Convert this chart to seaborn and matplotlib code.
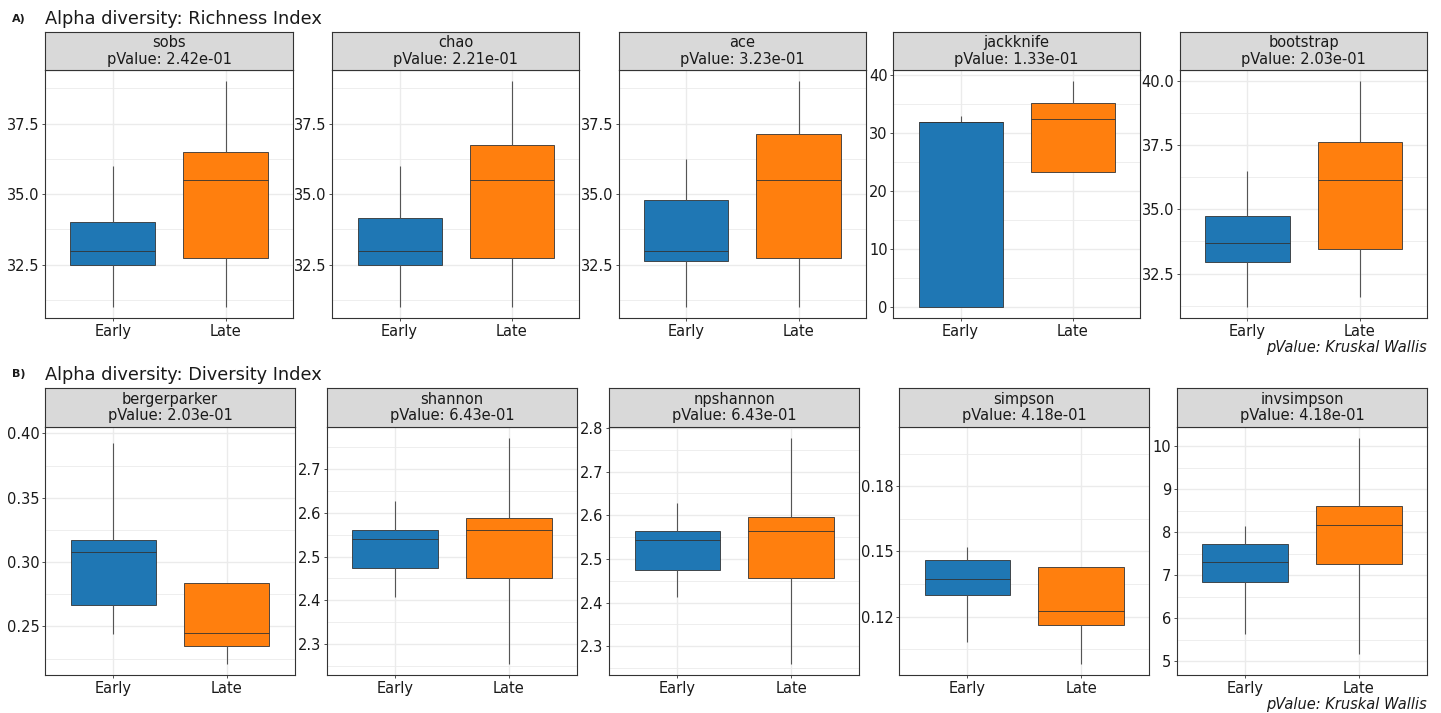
import numpy as np
import pandas as pd
import matplotlib
matplotlib.use("Agg")
import matplotlib.pyplot as plt
import seaborn as sns
from matplotlib.ticker import MultipleLocator, FormatStrFormatter

# ---------------------------------------------------------------- data
groups = ["Early", "Late"]

# A) richness indices
richness_metrics = ["sobs", "chao", "ace", "jackknife", "bootstrap"]
richness_pvalues = ["2.42e-01", "2.21e-01", "3.23e-01", "1.33e-01", "2.03e-01"]
sobs_early = [31.0, 32.5, 33.0, 34.0, 36.0]
sobs_late = [31.0, 32.75, 35.5, 36.5, 39.0]
chao_early = [31.0, 32.5, 33.0, 34.17, 36.0]
chao_late = [31.0, 32.75, 35.5, 36.75, 39.0]
ace_early = [31.0, 32.63, 33.0, 34.79, 36.23]
ace_late = [31.0, 32.75, 35.5, 37.14, 39.0]
jackknife_early = [0.0, 0.0, 32.0, 32.0, 33.0]
jackknife_late = [23.25, 23.25, 32.5, 35.25, 39.0]
bootstrap_early = [31.2, 32.95, 33.7, 34.72, 36.5]
bootstrap_late = [31.6, 33.47, 36.15, 37.6, 39.97]

# B) diversity indices
diversity_metrics = ["bergerparker", "shannon", "npshannon", "simpson", "invsimpson"]
diversity_pvalues = ["2.03e-01", "6.43e-01", "6.43e-01", "4.18e-01", "4.18e-01"]
bergerparker_early = [0.244, 0.267, 0.308, 0.3175, 0.3925]
bergerparker_late = [0.221, 0.235, 0.2445, 0.2835, 0.2835]
shannon_early = [2.407, 2.473, 2.540, 2.560, 2.626]
shannon_late = [2.255, 2.450, 2.560, 2.589, 2.771]
npshannon_early = [2.412, 2.474, 2.543, 2.563, 2.628]
npshannon_late = [2.260, 2.457, 2.564, 2.597, 2.777]
simpson_early = [0.1081, 0.1299, 0.1371, 0.1462, 0.1518]
simpson_late = [0.0983, 0.1162, 0.1227, 0.1429, 0.1429]
invsimpson_early = [5.63, 6.85, 7.30, 7.715, 8.14]
invsimpson_late = [5.18, 7.25, 8.155, 8.60, 10.185]

# outlying samples: not drawn, but they still define the y range
outliers = {
    "bergerparker": [0.3964],
    "simpson": [0.2022],
    "invsimpson": [4.948],
}

values = {
    "sobs": (sobs_early, sobs_late),
    "chao": (chao_early, chao_late),
    "ace": (ace_early, ace_late),
    "jackknife": (jackknife_early, jackknife_late),
    "bootstrap": (bootstrap_early, bootstrap_late),
    "bergerparker": (bergerparker_early, bergerparker_late),
    "shannon": (shannon_early, shannon_late),
    "npshannon": (npshannon_early, npshannon_late),
    "simpson": (simpson_early, simpson_late),
    "invsimpson": (invsimpson_early, invsimpson_late),
}

# ---------------------------------------------------------------- styling
palette = {"Early": "#1f77b4", "Late": "#ff7f0e"}
tick_step = {"sobs": 2.5, "chao": 2.5, "ace": 2.5, "jackknife": 10, "bootstrap": 2.5,
             "bergerparker": 0.05, "shannon": 0.1, "npshannon": 0.1, "simpson": 0.03,
             "invsimpson": 1}
tick_fmt = {"sobs": "%.1f", "chao": "%.1f", "ace": "%.1f", "jackknife": "%d",
            "bootstrap": "%.1f", "bergerparker": "%.2f", "shannon": "%.1f",
            "npshannon": "%.1f", "simpson": "%.2f", "invsimpson": "%d"}

W, H = 1441, 713
sns.set_theme(style="white")
plt.rcParams["font.family"] = ["DejaVu Sans"]
fig = plt.figure(figsize=(W / 100, H / 100), dpi=100)
fig.patch.set_facecolor("white")

DARK = "#333333"
GRID = "#EBEBEB"
TXT = "#1a1a1a"

# panel rectangles in pixels (left, right) and row extents (strip top, panel top, panel bottom)
rows = [
    dict(metrics=richness_metrics, pvals=richness_pvalues,
         strip_top=32.0, top=70.0, bottom=318.3,
         cols=[(45, 293.3), (332.3, 579), (618.7, 866), (893.3, 1140), (1180, 1427.3)]),
    dict(metrics=diversity_metrics, pvals=diversity_pvalues,
         strip_top=388.5, top=426.7, bottom=675.0,
         cols=[(45, 295), (326.7, 577.3), (609, 859.3), (899, 1149.3), (1176.7, 1427.3)]),
]


def frac_rect(left, right, top, bottom):
    return [left / W, 1 - bottom / H, (right - left) / W, (bottom - top) / H]


for row in rows:
    for metric, pval, (l, r) in zip(row["metrics"], row["pvals"], row["cols"]):
        early, late = values[metric]
        df = pd.DataFrame({"group": ["Early"] * len(early) + ["Late"] * len(late),
                           "value": list(early) + list(late)})

        ax = fig.add_axes(frac_rect(l, r, row["top"], row["bottom"]))
        ax.set_axisbelow(True)
        sns.boxplot(data=df, x="group", y="value", hue="group", order=groups,
                    hue_order=groups, palette=palette, legend=False, width=0.75,
                    saturation=1, linecolor=DARK, linewidth=0.6, whis=(0, 100),
                    showcaps=False, showfliers=False, ax=ax,
                    whiskerprops=dict(color="#555555", linewidth=0.8))

        allv = list(early) + list(late) + outliers.get(metric, [])
        lo, hi = min(allv), max(allv)
        pad = 0.05 * (hi - lo)
        ax.set_ylim(lo - pad, hi + pad)
        ax.set_xlim(-0.6, 1.6)
        ax.set_xlabel("")
        ax.set_ylabel("")

        step = tick_step[metric]
        ax.yaxis.set_major_locator(MultipleLocator(step))
        ax.yaxis.set_minor_locator(MultipleLocator(step / 2))
        ax.yaxis.set_major_formatter(FormatStrFormatter(tick_fmt[metric]))
        ax.grid(which="major", color=GRID, linewidth=1.0)
        ax.grid(which="minor", axis="y", color=GRID, linewidth=0.6)
        ax.tick_params(which="minor", length=0)
        ax.tick_params(which="major", length=2.5, width=0.6, color=DARK,
                       labelsize=10.5, labelcolor=TXT, pad=1.5, direction="out",
                       left=True, bottom=True)
        for s in ax.spines.values():
            s.set_color(DARK)
            s.set_linewidth(0.8)

        # facet strip
        sax = fig.add_axes(frac_rect(l, r, row["strip_top"], row["top"]))
        sax.set_facecolor("#D9D9D9")
        sax.set_xticks([])
        sax.set_yticks([])
        for s in sax.spines.values():
            s.set_color(DARK)
            s.set_linewidth(0.8)
        sax.text(0.5, 0.5, f"{metric}\npValue: {pval}", ha="center", va="center",
                 fontsize=10.5, color=TXT, linespacing=1.1, transform=sax.transAxes)

# row titles
fig.text(12 / W, 1 - 21.5 / H, "A)", fontsize=8, fontweight="bold", color=TXT,
         va="baseline")
fig.text(45 / W, 1 - 24.5 / H, "Alpha diversity: Richness Index", fontsize=12.8,
         color=TXT, va="baseline")
fig.text(12 / W, 1 - 377 / H, "B)", fontsize=8, fontweight="bold", color=TXT,
         va="baseline")
fig.text(45 / W, 1 - 380.5 / H, "Alpha diversity: Diversity Index", fontsize=12.8,
         color=TXT, va="baseline")

# test captions
for y in (347, 705):
    fig.text(1427 / W, 1 - y / H, "pValue: Kruskal Wallis", fontsize=10.5,
             style="italic", color=TXT, ha="right", va="center")

fig.savefig("out.png", dpi=100, facecolor="white")
